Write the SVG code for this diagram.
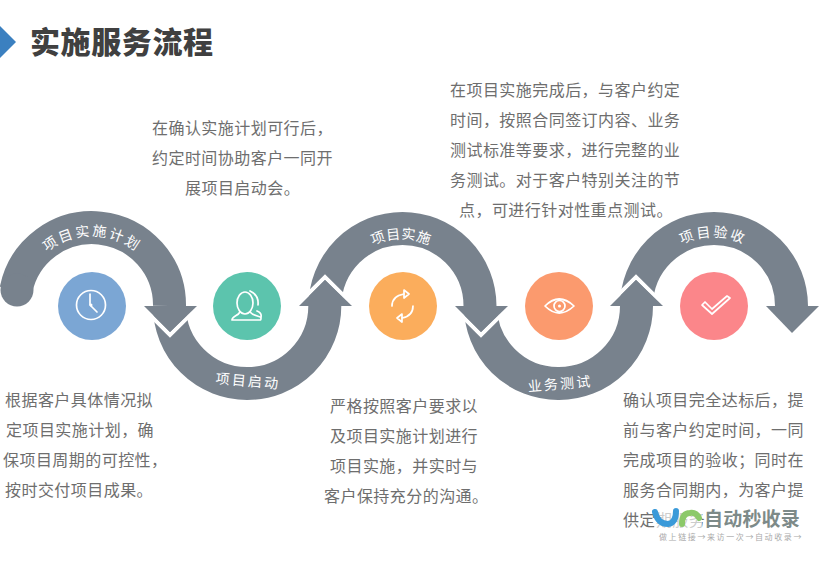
<svg xmlns="http://www.w3.org/2000/svg" width="820" height="568" viewBox="0 0 820 568">
<style>
text{font-family:"Noto Sans CJK SC","Liberation Sans",sans-serif}
.t{font-size:16px;fill:#6e6e6e;letter-spacing:.45px}
.l{font-size:14px;fill:#fff;letter-spacing:2.2px}
.a{fill:none;stroke:#78828d;stroke-width:33}
.h{fill:#78828d}
.c{fill:none;stroke:#fff;stroke-width:4;stroke-linejoin:miter}
.i{fill:none;stroke:#fff;stroke-width:1.7;stroke-linecap:round;stroke-linejoin:round}
</style>
<defs>
<path id="p1" d="M22 306A70 70 0 0 1 162 306"/>
<path id="p3" d="M334 306A67 67 0 0 1 468 306"/>
<path id="p5" d="M644 306A69 69 0 0 1 782 306"/>
</defs>
<rect width="820" height="568" fill="#fff"/>
<g id="title">
<polygon points="0,26 16,42 0,58" fill="#3b80c0"/>
<text x="30" y="53" font-size="30" font-weight="900" fill="#404040" style="letter-spacing:.6px">实施服务流程</text>
</g>
<g id="connectors">
<path class="a" d="M169.500 306A77.500 77.500 0 0 0 247.300 383.500A77.500 77.500 0 0 0 324.800 306"/>
<path class="a" d="M480.500 306A77.500 77.500 0 0 0 558.500 383.500A77.500 77.500 0 0 0 636.500 306"/>
<path class="a" d="M325 306A77.500 77.500 0 0 1 480 306"/>
<path class="a" d="M636.500 306A77.500 77.500 0 0 1 791.500 306"/>
<path class="a" d="M16 290A77.500 77.500 0 0 1 169.500 306"/>
<circle cx="17" cy="290" r="16.500" class="h"/>
<polyline class="c" points="150,315 170,335 190,315"/>
<polyline class="c" points="461,315 481,335 501,315"/>
<polyline class="c" points="305,297 325,277 345,297"/>
<polyline class="c" points="616,297 636,277 656,297"/>
<polygon class="h" points="144,306 197,306 170,332"/>
<polygon class="h" points="455,306 508,306 481,332"/>
<polygon class="h" points="766,306 819,306 792,333"/>
<polygon class="h" points="299,306 352,306 325,280"/>
<polygon class="h" points="610,306 663,306 636,280"/>
</g>
<g id="label1"><text class="l" text-anchor="middle"><textPath href="#p1" startOffset="50%">项目实施计划</textPath></text></g>
<g id="label2"><text class="l" x="248" y="386" text-anchor="middle" transform="rotate(5 247 381)">项目启动</text></g>
<g id="label3"><text class="l" text-anchor="middle" style="letter-spacing:.5px"><textPath href="#p3" startOffset="50%">项目实施</textPath></text></g>
<g id="label4"><text class="l" x="560" y="389" text-anchor="middle" transform="rotate(-5 559 383)">业务测试</text></g>
<g id="label5"><text class="l" text-anchor="middle"><textPath href="#p5" startOffset="50%">项目验收</textPath></text></g>
<g id="node1">
<circle cx="92" cy="306" r="34" fill="#7ba6d4"/>
<circle cx="91" cy="305" r="14.500" class="i"/>
<path class="i" d="M90 294V305L97 312"/>
<circle cx="91" cy="305" r="1.500" fill="#fff"/>
</g>
<g id="node2">
<circle cx="247" cy="306" r="34" fill="#5cc4ad"/>
<ellipse cx="245" cy="303" rx="8" ry="11" class="i"/>
<path class="i" d="M240 312C238 316 232 316 232 320Q232 320 234 320H260Q261 320 261 318C261 316 253 316 250 312"/>
<path class="i" d="M250 291Q259 295 258 305M257 311Q262 313 261 317"/>
</g>
<g id="node3">
<circle cx="403" cy="306" r="34" fill="#fbad5c"/>
<path class="i" d="M392 306Q392 296 404 294"/>
<path class="i" d="M404 290L409 294L404 298Z"/>
<path class="i" d="M413 306Q413 316 402 318"/>
<path class="i" d="M402 314L397 318L402 322Z"/>
</g>
<g id="node4">
<circle cx="559" cy="306" r="34" fill="#fb9a6e"/>
<path class="i" d="M545 306Q559 292 574 306Q559 320 545 306Z"/>
<circle cx="559.500" cy="306" r="5.500" class="i"/>
<circle cx="559.500" cy="306" r="1.500" fill="#fff"/>
</g>
<g id="node5">
<circle cx="714" cy="306" r="34" fill="#fb868a"/>
<path class="i" d="M702 305L712 314L730 298L727 296L712 309L705 302Z"/>
</g>
<g id="text1">
<text class="t" x="5" y="406">根据客户具体情况拟</text>
<text class="t" x="6" y="436">定项目实施计划，确</text>
<text class="t" x="3" y="466">保项目周期的可控性，</text>
<text class="t" x="5" y="496">按时交付项目成果。</text>
</g>
<g id="text2">
<text class="t" x="152" y="134">在确认实施计划可行后，</text>
<text class="t" x="152" y="164">约定时间协助客户一同开</text>
<text class="t" x="185" y="194">展项目启动会。</text>
</g>
<g id="text3">
<text class="t" x="330" y="412">严格按照客户要求以</text>
<text class="t" x="330" y="442">及项目实施计划进行</text>
<text class="t" x="330" y="472">项目实施，并实时与</text>
<text class="t" x="324" y="502">客户保持充分的沟通。</text>
</g>
<g id="text4">
<text class="t" x="450" y="96">在项目实施完成后，与客户约定</text>
<text class="t" x="450" y="126">时间，按照合同签订内容、业务</text>
<text class="t" x="450" y="156">测试标准等要求，进行完整的业</text>
<text class="t" x="450" y="186">务测试。对于客户特别关注的节</text>
<text class="t" x="459" y="216">点，可进行针对性重点测试。</text>
</g>
<g id="text5">
<text class="t" x="623" y="406">确认项目完全达标后，提</text>
<text class="t" x="623" y="436">前与客户约定时间，一同</text>
<text class="t" x="623" y="466">完成项目的验收；同时在</text>
<text class="t" x="623" y="496">服务合同期内，为客户提</text>
<text class="t" x="623" y="526">供定期服务</text>
</g>
<g id="watermark">
<rect x="654" y="505" width="48" height="26" fill="#fff" fill-opacity=".65"/>
<path d="M655 512Q658 524 668 524Q676 523 676 511" fill="none" stroke="#3a9ad9" stroke-width="6" stroke-linecap="round"/>
<path d="M682 524Q682 513 690 513Q696 512 699 518" fill="none" stroke="#8cc96a" stroke-width="6" stroke-linecap="round"/>
<text x="704" y="526" font-size="19" font-weight="700" fill="#7d8a88" style="letter-spacing:.2px">自动秒收录</text>
<text x="659" y="540" font-size="8" fill="#aaa" style="letter-spacing:1.6px">做上链接→来访一次→自动收录→</text>
</g>
</svg>
